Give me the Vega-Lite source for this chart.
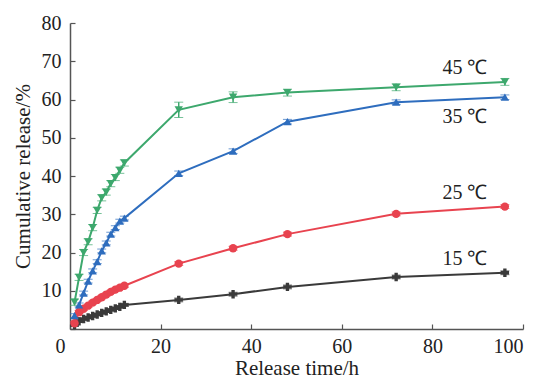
{
  "$schema": "https://vega.github.io/schema/vega-lite/v6.json",
  "width": 453,
  "height": 306,
  "autosize": "none",
  "padding": {"left": 70, "top": 23, "right": 17, "bottom": 50},
  "background": "white",
  "config": {
    "view": {"stroke": null},
    "font": "Liberation Serif, Times New Roman, serif",
    "text": {"font": "Liberation Serif, Times New Roman, serif"},
    "axis": {
      "grid": false,
      "domainColor": "#555555",
      "domainWidth": 1.5,
      "tickColor": "#555555",
      "tickWidth": 1.2,
      "tickSize": -5,
      "labelFont": "Liberation Serif, Times New Roman, serif",
      "labelFontSize": 20,
      "labelColor": "#222222",
      "titleFont": "Liberation Serif, Times New Roman, serif",
      "titleFontSize": 21,
      "titleFontWeight": "normal",
      "titleColor": "#222222"
    }
  },
  "data": {
    "values": [
      {"t": 1, "v": 1.0, "e": 0.3, "s": "15 ℃"},
      {"t": 2, "v": 2.0, "e": 0.3, "s": "15 ℃"},
      {"t": 3, "v": 2.6, "e": 0.3, "s": "15 ℃"},
      {"t": 4, "v": 3.0, "e": 0.3, "s": "15 ℃"},
      {"t": 5, "v": 3.4, "e": 0.3, "s": "15 ℃"},
      {"t": 6, "v": 3.8, "e": 0.3, "s": "15 ℃"},
      {"t": 7, "v": 4.2, "e": 0.3, "s": "15 ℃"},
      {"t": 8, "v": 4.6, "e": 0.3, "s": "15 ℃"},
      {"t": 9, "v": 5.0, "e": 0.3, "s": "15 ℃"},
      {"t": 10, "v": 5.4, "e": 0.3, "s": "15 ℃"},
      {"t": 11, "v": 5.8, "e": 0.3, "s": "15 ℃"},
      {"t": 12, "v": 6.3, "e": 0.4, "s": "15 ℃"},
      {"t": 24, "v": 7.6, "e": 0.5, "s": "15 ℃"},
      {"t": 36, "v": 9.1, "e": 0.5, "s": "15 ℃"},
      {"t": 48, "v": 11.0, "e": 0.5, "s": "15 ℃"},
      {"t": 72, "v": 13.6, "e": 0.5, "s": "15 ℃"},
      {"t": 96, "v": 14.7, "e": 0.5, "s": "15 ℃"},
      {"t": 1, "v": 1.5, "e": 0.4, "s": "25 ℃"},
      {"t": 2, "v": 4.4, "e": 0.4, "s": "25 ℃"},
      {"t": 3, "v": 5.3, "e": 0.4, "s": "25 ℃"},
      {"t": 4, "v": 6.1, "e": 0.4, "s": "25 ℃"},
      {"t": 5, "v": 6.9, "e": 0.4, "s": "25 ℃"},
      {"t": 6, "v": 7.6, "e": 0.4, "s": "25 ℃"},
      {"t": 7, "v": 8.3, "e": 0.4, "s": "25 ℃"},
      {"t": 8, "v": 9.0, "e": 0.4, "s": "25 ℃"},
      {"t": 9, "v": 9.7, "e": 0.4, "s": "25 ℃"},
      {"t": 10, "v": 10.3, "e": 0.4, "s": "25 ℃"},
      {"t": 11, "v": 10.8, "e": 0.4, "s": "25 ℃"},
      {"t": 12, "v": 11.3, "e": 0.4, "s": "25 ℃"},
      {"t": 24, "v": 17.1, "e": 0.5, "s": "25 ℃"},
      {"t": 36, "v": 21.1, "e": 0.5, "s": "25 ℃"},
      {"t": 48, "v": 24.8, "e": 0.5, "s": "25 ℃"},
      {"t": 72, "v": 30.1, "e": 0.5, "s": "25 ℃"},
      {"t": 96, "v": 32.0, "e": 0.5, "s": "25 ℃"},
      {"t": 1, "v": 3.5, "e": 0.5, "s": "35 ℃"},
      {"t": 2, "v": 6.3, "e": 0.5, "s": "35 ℃"},
      {"t": 3, "v": 9.4, "e": 0.5, "s": "35 ℃"},
      {"t": 4, "v": 12.5, "e": 0.5, "s": "35 ℃"},
      {"t": 5, "v": 15.2, "e": 0.5, "s": "35 ℃"},
      {"t": 6, "v": 17.6, "e": 0.5, "s": "35 ℃"},
      {"t": 7, "v": 20.4, "e": 0.5, "s": "35 ℃"},
      {"t": 8, "v": 22.5, "e": 0.5, "s": "35 ℃"},
      {"t": 9, "v": 24.8, "e": 0.5, "s": "35 ℃"},
      {"t": 10, "v": 26.5, "e": 0.5, "s": "35 ℃"},
      {"t": 11, "v": 28.2, "e": 0.5, "s": "35 ℃"},
      {"t": 12, "v": 29.0, "e": 0.5, "s": "35 ℃"},
      {"t": 24, "v": 40.7, "e": 0.6, "s": "35 ℃"},
      {"t": 36, "v": 46.5, "e": 0.6, "s": "35 ℃"},
      {"t": 48, "v": 54.2, "e": 0.6, "s": "35 ℃"},
      {"t": 72, "v": 59.3, "e": 0.6, "s": "35 ℃"},
      {"t": 96, "v": 60.6, "e": 0.6, "s": "35 ℃"},
      {"t": 1, "v": 7.0, "e": 0.8, "s": "45 ℃"},
      {"t": 2, "v": 13.5, "e": 0.8, "s": "45 ℃"},
      {"t": 3, "v": 20.0, "e": 0.8, "s": "45 ℃"},
      {"t": 4, "v": 22.8, "e": 0.8, "s": "45 ℃"},
      {"t": 5, "v": 26.5, "e": 0.8, "s": "45 ℃"},
      {"t": 6, "v": 31.0, "e": 0.8, "s": "45 ℃"},
      {"t": 7, "v": 34.3, "e": 0.8, "s": "45 ℃"},
      {"t": 8, "v": 35.8, "e": 0.8, "s": "45 ℃"},
      {"t": 9, "v": 38.0, "e": 0.8, "s": "45 ℃"},
      {"t": 10, "v": 39.6, "e": 0.8, "s": "45 ℃"},
      {"t": 11, "v": 41.5, "e": 0.8, "s": "45 ℃"},
      {"t": 12, "v": 43.4, "e": 0.8, "s": "45 ℃"},
      {"t": 24, "v": 57.3, "e": 2.0, "s": "45 ℃"},
      {"t": 36, "v": 60.6, "e": 1.4, "s": "45 ℃"},
      {"t": 48, "v": 61.8, "e": 0.9, "s": "45 ℃"},
      {"t": 72, "v": 63.2, "e": 0.9, "s": "45 ℃"},
      {"t": 96, "v": 64.6, "e": 0.9, "s": "45 ℃"}
    ]
  },
  "encoding": {
    "x": {
      "field": "t",
      "type": "quantitative",
      "scale": {"domain": [0, 100], "nice": false},
      "axis": {
        "title": "Release time/h",
        "values": [0, 20, 40, 60, 80, 100],
        "labelPadding": 12,
        "labelOffset": {"condition": {"test": "datum.value === 0", "value": -15}, "value": 0},
        "titleY": 45,
        "titleBaseline": "alphabetic"
      }
    },
    "y": {
      "field": "v",
      "type": "quantitative",
      "scale": {"domain": [0, 80], "nice": false},
      "axis": {
        "title": "Cumulative release/%",
        "values": [0, 10, 20, 30, 40, 50, 60, 70, 80],
        "labelExpr": "datum.value === 0 ? '' : datum.label",
        "labelPadding": 14,
        "titlePadding": 8
      }
    },
    "color": {
      "field": "s",
      "type": "nominal",
      "legend": null,
      "scale": {"domain": ["15 ℃", "25 ℃", "35 ℃", "45 ℃"], "range": ["#3a3a3a", "#E8434F", "#2E6DBE", "#3DA86D"]}
    }
  },
  "layer": [
    {
      "mark": {"type": "line", "strokeWidth": 2},
      "encoding": {"detail": {"field": "s"}}
    },
    {
      "mark": {"type": "errorbar", "ticks": {"size": 9, "strokeWidth": 1.5}, "rule": {"strokeWidth": 1.5}},
      "encoding": {
        "y": {"field": "v", "type": "quantitative"},
        "yError": {"field": "e"}
      }
    },
    {
      "mark": {"type": "point", "filled": true, "opacity": 1, "size": 70},
      "encoding": {
        "shape": {
          "field": "s",
          "type": "nominal",
          "legend": null,
          "scale": {"domain": ["15 ℃", "25 ℃", "35 ℃", "45 ℃"], "range": ["cross", "circle", "triangle-up", "triangle-down"]}
        },
        "color": {
          "field": "s",
          "type": "nominal",
          "legend": null,
          "scale": {"domain": ["15 ℃", "25 ℃", "35 ℃", "45 ℃"], "range": ["#111111", "#E8434F", "#2E6DBE", "#3DA86D"]}
        }
      }
    },
    {
      "transform": [{"filter": "datum.t === 96 && datum.s !== '35 ℃'"}],
      "mark": {"type": "text", "dx": -40, "dy": -14, "fontSize": 20, "color": "#222222"},
      "encoding": {"text": {"field": "s"}, "color": {"value": "#222222"}}
    },
    {
      "transform": [{"filter": "datum.t === 96 && datum.s === '35 ℃'"}],
      "mark": {"type": "text", "dx": -40, "dy": 20, "fontSize": 20, "color": "#222222"},
      "encoding": {"text": {"field": "s"}, "color": {"value": "#222222"}}
    }
  ]
}
